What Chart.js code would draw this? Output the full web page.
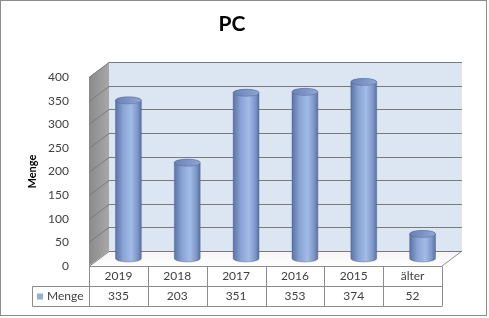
<!DOCTYPE html>
<html lang="de">
<head>
<meta charset="UTF-8">
<title>PC</title>
<script src="https://cdn.jsdelivr.net/npm/chart.js"></script>
<style>
  html, body { margin: 0; padding: 0; background: #fff; }
  #wrap { width: 489px; height: 318px; }
</style>
</head>
<body>
<div id="wrap"><canvas id="pcChart" width="489" height="318"></canvas></div>
<script>
const categories = ['2019', '2018', '2017', '2016', '2015', 'älter'];
const menge = [335, 203, 351, 353, 374, 52];
const yTicks = [0, 50, 100, 150, 200, 250, 300, 350, 400];
const seriesName = 'Menge';

const FONT = 'Lato, "Liberation Sans", sans-serif';
const depth = { dx: 20, dy: -15 };
const lineGray = '#8c8c8c';

// white background, outer frame
const background = {
  id: 'background',
  beforeDraw(chart) {
    const c = chart.ctx;
    c.save();
    c.fillStyle = '#fff';
    c.fillRect(0, 0, chart.width, chart.height);
    c.strokeStyle = lineGray;
    c.lineWidth = 1;
    c.strokeRect(0.5, 0.5, 486, 315);
    c.restore();
  }
};

// walls, floor and gridlines of the 3D box
const walls = {
  id: 'walls',
  beforeDatasetsDraw(chart) {
    const { ctx: c, chartArea: a, scales: { y } } = chart;
    const { dx, dy } = depth;
    c.save();
    c.fillStyle = '#dce6f2';
    c.fillRect(a.left + dx, a.top + dy, a.right - a.left, a.bottom - a.top);

    let g = c.createLinearGradient(a.left, 0, a.left + dx, 0);
    g.addColorStop(0, '#8a8a8a');
    g.addColorStop(1, '#a8a8a8');
    c.fillStyle = g;
    c.beginPath();
    c.moveTo(a.left, a.top);
    c.lineTo(a.left + dx, a.top + dy);
    c.lineTo(a.left + dx, a.bottom + dy);
    c.lineTo(a.left, a.bottom);
    c.closePath();
    c.fill();

    g = c.createLinearGradient(0, a.bottom + dy, 0, a.bottom);
    g.addColorStop(0, '#f4f4f4');
    g.addColorStop(1, '#ffffff');
    c.fillStyle = g;
    c.beginPath();
    c.moveTo(a.left, a.bottom);
    c.lineTo(a.right, a.bottom);
    c.lineTo(a.right + dx, a.bottom + dy);
    c.lineTo(a.left + dx, a.bottom + dy);
    c.closePath();
    c.fill();
    c.strokeStyle = lineGray;
    c.lineWidth = 1;
    c.beginPath();
    c.moveTo(a.right, a.bottom);
    c.lineTo(a.right + dx, a.bottom + dy);
    c.stroke();

    c.strokeStyle = '#7a7a7a';
    yTicks.forEach(v => {
      const py = Math.round(y.getPixelForValue(v)) + 0.5;
      c.beginPath();
      c.moveTo(a.left, py);
      c.lineTo(a.left + dx, py + dy);
      c.lineTo(a.right + dx, py + dy);
      c.stroke();
    });
    c.restore();
  }
};

// cylinders drawn on top of the (transparent) bar elements
const cylinders = {
  id: 'cylinders',
  afterDatasetsDraw(chart) {
    const c = chart.ctx;
    const meta = chart.getDatasetMeta(0);
    const ox = depth.dx / 2, oy = depth.dy / 2;
    c.save();
    meta.data.forEach(el => {
      const p = el.getProps(['x', 'y', 'base', 'width'], true);
      const cx = p.x + ox, top = p.y + oy, bot = p.base + oy;
      const rx = p.width / 2, ry = 3.5;
      const g = c.createLinearGradient(cx - rx, 0, cx + rx, 0);
      g.addColorStop(0, '#5b73a4');
      g.addColorStop(0.3, '#8aa4d6');
      g.addColorStop(0.6, '#a2bbe6');
      g.addColorStop(0.85, '#7e97c9');
      g.addColorStop(1, '#5a71a1');
      c.fillStyle = g;
      c.beginPath();
      c.moveTo(cx - rx, top);
      c.lineTo(cx - rx, bot);
      c.ellipse(cx, bot, rx, ry, 0, Math.PI, 0, true);
      c.lineTo(cx + rx, top);
      c.ellipse(cx, top, rx, ry, 0, 0, Math.PI, true);
      c.closePath();
      c.fill();
      c.strokeStyle = 'rgba(70,90,130,0.45)';
      c.lineWidth = 0.8;
      c.stroke();

      const gt = c.createLinearGradient(cx - rx, 0, cx + rx, 0);
      gt.addColorStop(0, '#6a82b4');
      gt.addColorStop(1, '#8fa7d5');
      c.fillStyle = gt;
      c.beginPath();
      c.ellipse(cx, top, rx, ry, 0, 0, Math.PI * 2);
      c.fill();
      c.stroke();
    });
    c.restore();
  }
};

// data table under the plot
const dataTable = {
  id: 'dataTable',
  afterDraw(chart) {
    const { ctx: c, chartArea: a, scales: { x } } = chart;
    const colW = (a.right - a.left) / categories.length;
    const r0 = Math.round(a.bottom) + 0.5, r1 = r0 + 20, r2 = r1 + 20;
    const legL = 32.5;
    c.save();
    c.strokeStyle = lineGray;
    c.lineWidth = 1;
    c.beginPath();
    c.moveTo(a.left, r0); c.lineTo(a.right, r0);
    c.moveTo(legL, r1); c.lineTo(a.right, r1);
    c.moveTo(legL, r2); c.lineTo(a.right, r2);
    c.moveTo(legL, r1); c.lineTo(legL, r2);
    for (let i = 0; i <= categories.length; i++) {
      const px = Math.round(a.left + i * colW) + 0.5;
      c.moveTo(px, r0); c.lineTo(px, r2);
    }
    c.stroke();

    c.fillStyle = '#404040';
    c.font = '12px ' + FONT;
    c.textAlign = 'center';
    c.textBaseline = 'middle';
    categories.forEach((cat, i) => {
      const px = x.getPixelForValue(i);
      c.fillText(cat, px, (r0 + r1) / 2);
      c.fillText(String(menge[i]), px, (r1 + r2) / 2);
    });
    c.fillStyle = '#95add9';
    c.fillRect(37, r1 + 7, 6, 6);
    c.fillStyle = '#404040';
    c.textAlign = 'left';
    c.fillText(seriesName, 47, (r1 + r2) / 2);
    c.restore();
  }
};

new Chart(document.getElementById('pcChart'), {
  type: 'bar',
  data: {
    labels: categories,
    datasets: [{
      label: seriesName,
      data: menge,
      backgroundColor: 'rgba(0,0,0,0)',
      borderWidth: 0,
      categoryPercentage: 1,
      barPercentage: 0.44
    }]
  },
  options: {
    responsive: false,
    animation: false,
    layout: { padding: { left: 22, right: 47, top: 0, bottom: 52 } },
    plugins: {
      legend: { display: false },
      tooltip: { enabled: false },
      title: {
        display: true,
        text: 'PC',
        color: '#000',
        font: { family: FONT, size: 21, weight: 'bold' },
        padding: { top: 12, bottom: 40 }
      }
    },
    scales: {
      x: { display: false },
      y: {
        min: 0,
        max: 400,
        afterFit(s) { s.width = 67; },
        afterBuildTicks(s) { s.ticks = yTicks.map(v => ({ value: v })); },
        grid: { display: false },
        border: { display: false },
        ticks: { color: '#404040', padding: 12, font: { family: FONT, size: 12 } },
        title: {
          display: true,
          text: 'Menge',
          color: '#000',
          font: { family: FONT, size: 11, weight: 'bold' }
        }
      }
    }
  },
  plugins: [background, walls, cylinders, dataTable]
});
</script>
</body>
</html>
